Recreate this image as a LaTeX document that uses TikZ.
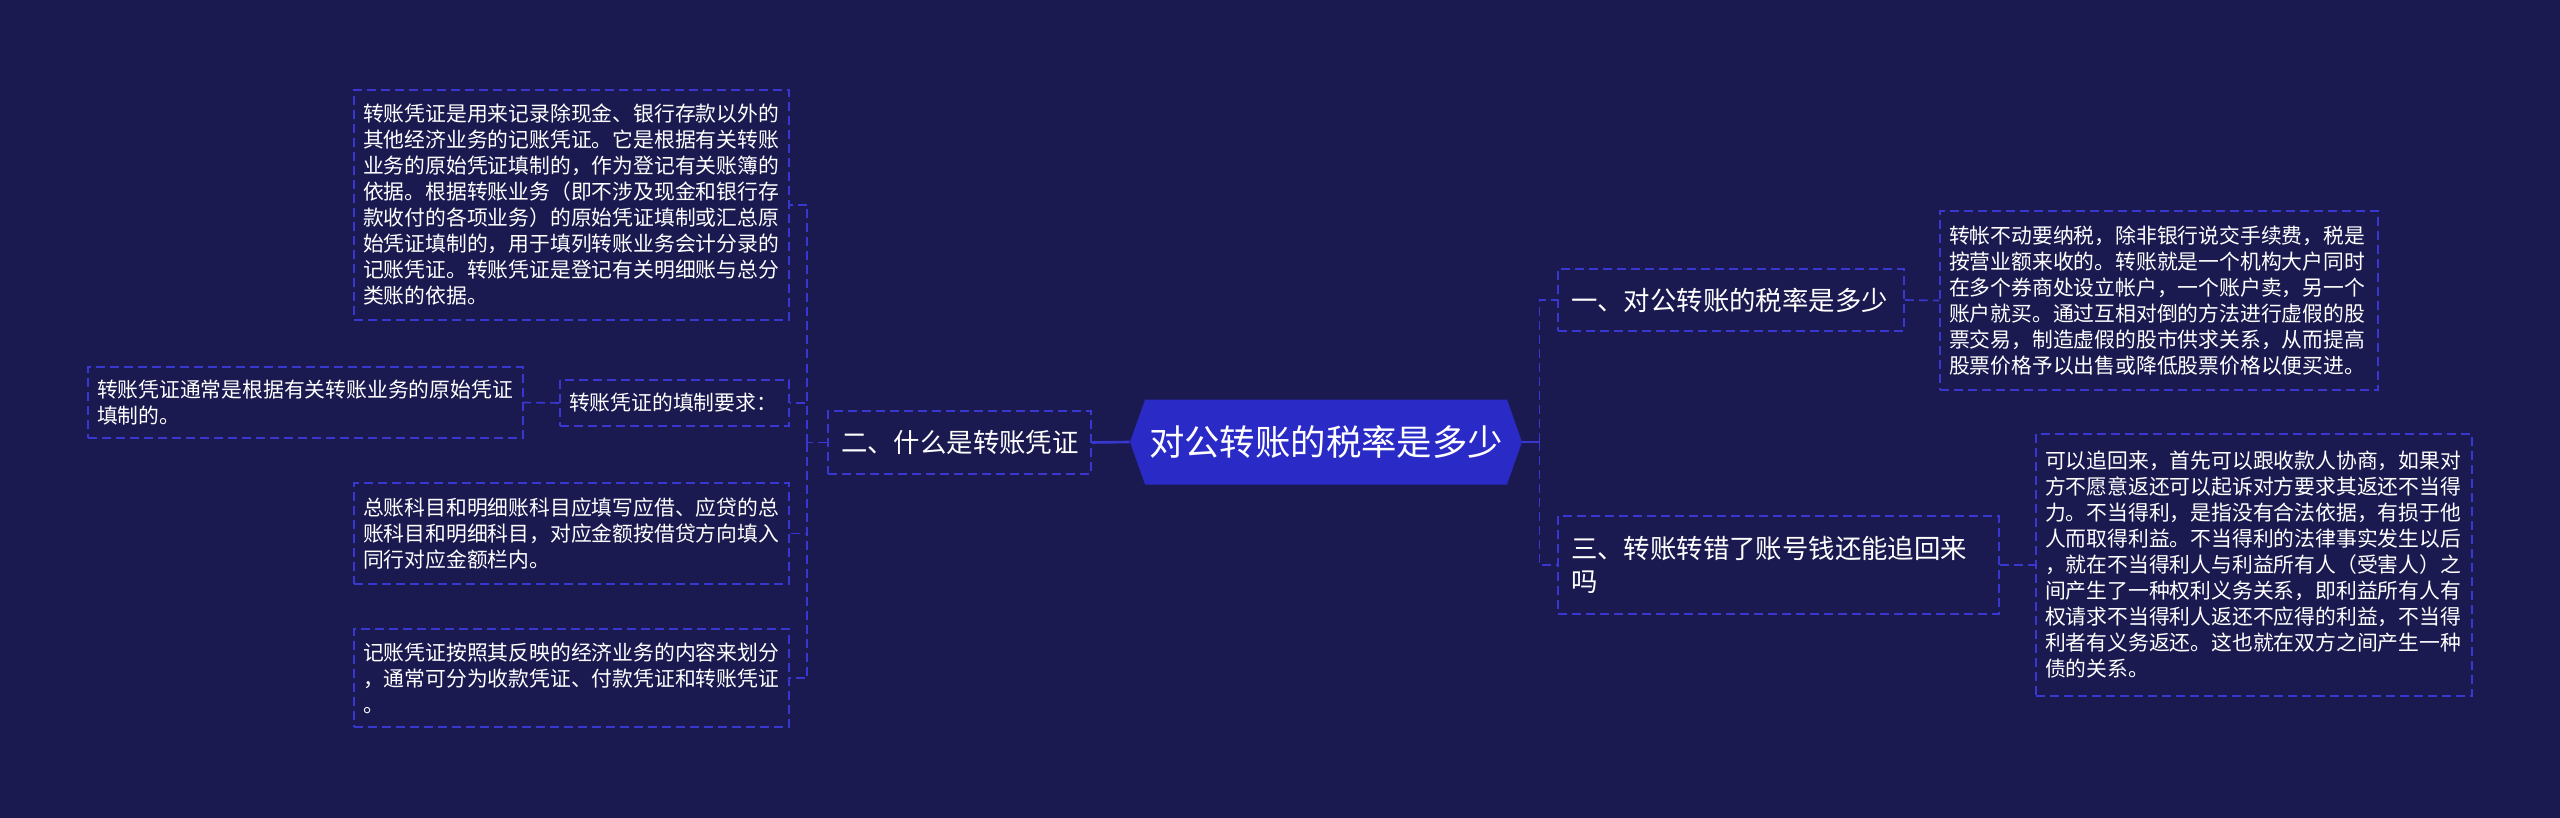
\documentclass[tikz,border=0pt]{standalone}
\usepackage{fontspec}
\setmainfont{Noto Sans CJK SC}
\usetikzlibrary{shapes.symbols}
\definecolor{bgnavy}{HTML}{1B1A50}
\definecolor{rootblue}{HTML}{2A2AC6}
\definecolor{edgeblue}{HTML}{3838D0}
\begin{document}
\begin{tikzpicture}[x=0.5pt, y=-0.5pt,
  every node/.style={text=white},
  txtbox/.style={draw=edgeblue, line width=0.8pt, dash pattern=on 4.5pt off 2.5pt,
    align=left, inner xsep=4.5pt, inner ysep=0pt, text width=#1,
    font=\fontsize{10.4pt}{13pt}\selectfont},
  topicbox/.style={txtbox=#1, inner xsep=6.5pt, font=\fontsize{13.2pt}{16.3pt}\selectfont},
  link/.style={draw=edgeblue, line width=0.8pt, dash pattern=on 4.5pt off 2.5pt},
  rootlink/.style={draw=edgeblue, line width=1.3pt}]
  \useasboundingbox (0,0) rectangle (2560,818);
  \fill[bgnavy] (0,0) rectangle (2560,818);

  \node[signal, signal to=west and east, signal pointer angle=141, fill=rootblue,
    minimum width=196pt, minimum height=42.5pt, inner sep=0pt,
    font=\fontsize{17.7pt}{20pt}\selectfont] (root) at (1326,442) {对公转账的税率是多少};

  \node[topicbox=118.5pt, minimum height=31.5pt] (two) at (959.5,442.5) {二、什么是转账凭证};
  \node[topicbox=160pt, minimum height=31pt] (one) at (1731,300) {一、对公转账的税率是多少};
  \node[topicbox=207.5pt, minimum height=49pt] (three) at (1778.5,565)
    {三、转账转错了账号钱还能追回来\\吗};

  \node[txtbox=208.5pt, minimum height=115pt] (l1) at (571.5,205)
    {转账凭证是用来记录除现金、银行存款以外的\\其他经济业务的记账凭证。它是根据有关转账\\业务的原始凭证填制的，作为登记有关账簿的\\依据。根据转账业务（即不涉及现金和银行存\\款收付的各项业务）的原始凭证填制或汇总原\\始凭证填制的，用于填列转账业务会计分录的\\记账凭证。转账凭证是登记有关明细账与总分\\类账的依据。};
  \node[txtbox=105.5pt, minimum height=23pt] (l2) at (674.5,403) {转账凭证的填制要求：};
  \node[txtbox=208.5pt, minimum height=35.5pt] (l2a) at (305.5,402.5)
    {转账凭证通常是根据有关转账业务的原始凭证\\填制的。};
  \node[txtbox=208.5pt, minimum height=50.5pt] (l3) at (571.5,533.5)
    {总账科目和明细账科目应填写应借、应贷的总\\账科目和明细科目，对应金额按借贷方向填入\\同行对应金额栏内。};
  \node[txtbox=208.5pt, minimum height=49pt] (l4) at (571.5,678)
    {记账凭证按照其反映的经济业务的内容来划分\\，通常可分为收款凭证、付款凭证和转账凭证\\。};

  \node[txtbox=210pt, minimum height=89.5pt] (r1) at (2159,300.5)
    {转帐不动要纳税，除非银行说交手续费，税是\\按营业额来收的。转账就是一个机构大户同时\\在多个券商处设立帐户，一个账户卖，另一个\\账户就买。通过互相对倒的方法进行虚假的股\\票交易，制造虚假的股市供求关系，从而提高\\股票价格予以出售或降低股票价格以便买进。};
  \node[txtbox=209pt, minimum height=131pt] (r3) at (2254,565)
    {可以追回来，首先可以跟收款人协商，如果对\\方不愿意返还可以起诉对方要求其返还不当得\\力。不当得利，是指没有合法依据，有损于他\\人而取得利益。不当得利的法律事实发生以后\\，就在不当得利人与利益所有人（受害人）之\\间产生了一种权利义务关系，即利益所有人有\\权请求不当得利人返还不应得的利益，不当得\\利者有义务返还。这也就在双方之间产生一种\\债的关系。};

  \draw[rootlink] (root.west) -- (two.east);
  \draw[rootlink] (root.east) -- ++(17,0) coordinate (rbus);
  \draw[link] (rbus) |- (one.west);
  \draw[link] (rbus) |- (three.west);
  \draw[link] (two.west) -- ++(-20,0) coordinate (lbus);
  \foreach \n in {l1,l2,l3,l4}
    \draw[link] (lbus) |- (\n.east);
  \draw[link] (l2.west) -- (l2a.east);
  \draw[link] (one.east) -- (r1.west);
  \draw[link] (three.east) -- (r3.west);
\end{tikzpicture}
\end{document}
